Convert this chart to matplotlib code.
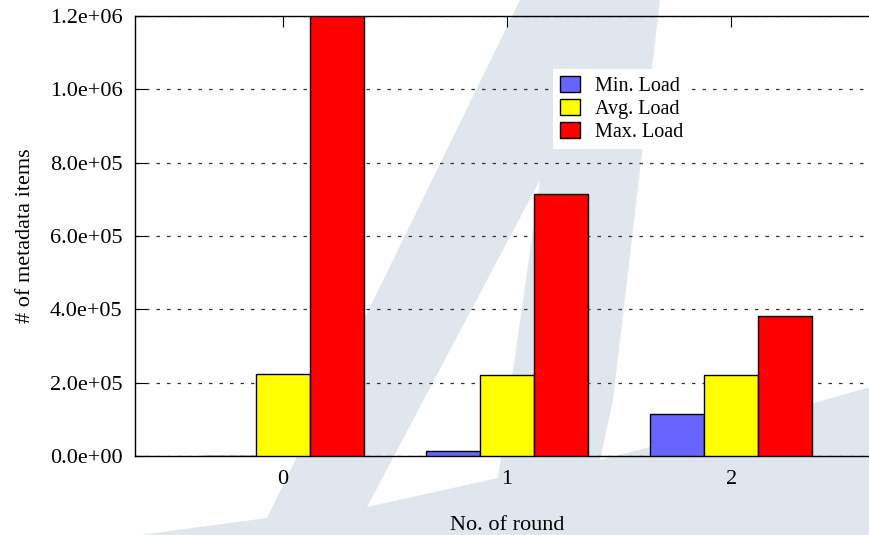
import matplotlib
matplotlib.use("Agg")
import matplotlib.pyplot as plt
from matplotlib.patches import Polygon
from matplotlib.ticker import FormatStrFormatter
import numpy as np

plt.rcParams['font.family'] = ['Liberation Serif', 'DejaVu Serif']

rounds = [0, 1, 2]
series_names = ["Min. Load", "Avg. Load", "Max. Load"]
min_load = [500, 14500, 113700]
avg_load = [223000, 221000, 221000]
max_load = [1200000, 715000, 383000]
yticks = [0, 2e5, 4e5, 6e5, 8e5, 1.0e6, 1.2e6]

colors = ["#6666ff", "#ffff00", "#ff0000"]

W, H = 870, 535
fig = plt.figure(figsize=(W / 100, H / 100), dpi=100)

# background logo, outline in pixel units (y measured from the top)
def px(pts):
    return [(x / W, 1 - y / H) for x, y in pts]

logo = [(520, 0), (660, 0), (613, 400), (600, 460), (700, 434), (790, 410),
        (870, 387), (870, 535), (140, 535), (267, 518)]
counter = [(540, 180), (498, 478), (367, 507)]
fig.patches.append(Polygon(px(logo), closed=True, transform=fig.transFigure,
                           facecolor="#e0e6ed", edgecolor="none", zorder=-10))
fig.patches.append(Polygon(px(counter), closed=True, transform=fig.transFigure,
                           facecolor="white", edgecolor="none", zorder=-9))

ax = fig.add_axes([135 / W, (H - 456) / H, 744 / W, 440 / H])
ax.set_facecolor("none")

x = np.arange(len(rounds))
width = 0.24
for i, (vals, name) in enumerate(zip([min_load, avg_load, max_load], series_names)):
    ax.bar(x + (i - 1) * width, vals, width, color=colors[i], edgecolor="black",
           linewidth=1.0, label=name, zorder=3)

ax.set_xlim(-0.66, 2.66)
ax.set_ylim(0, 1.2e6)
ax.set_xticks(x)
ax.set_xticklabels([str(r) for r in rounds])
ax.set_yticks(yticks)
ax.yaxis.set_major_formatter(FormatStrFormatter('%.1e'))

ax.tick_params(axis='both', direction='in', length=8, width=0.8,
               labelsize=16, top=True, right=False)
ax.tick_params(axis='x', pad=10)
ax.tick_params(axis='y', pad=9)

ax.yaxis.grid(True, color="#333333", linewidth=0.9, linestyle=(0, (2.8, 5.6)), zorder=1)
ax.set_axisbelow(True)
ax.spines['right'].set_visible(False)
for s in ['left', 'top', 'bottom']:
    ax.spines[s].set_linewidth(1.0)

ax.set_xlabel("No. of round", fontsize=16)
ax.set_ylabel("# of metadata items", fontsize=16)
ax.xaxis.set_label_coords(0.5, -0.136)
ax.yaxis.set_label_coords(-0.135, 0.5)

leg = ax.legend(loc='upper left', bbox_to_anchor=(553 / W, 1 - 69 / H),
                bbox_transform=fig.transFigure, borderaxespad=0, fontsize=14.5,
                frameon=True, fancybox=False, framealpha=1, edgecolor="none",
                borderpad=0.35, labelspacing=0.14, handlelength=1.0,
                handleheight=0.85, handletextpad=0.75)
leg.get_frame().set_linewidth(0)

fig.savefig("out.png", dpi=100)
